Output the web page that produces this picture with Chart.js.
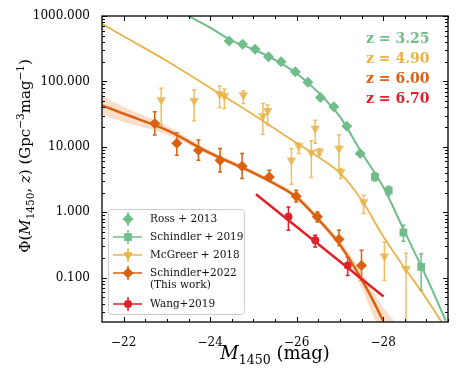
<!DOCTYPE html>
<html><head><meta charset="utf-8">
<script src="https://cdn.jsdelivr.net/npm/chart.js@4"></script>
<style>html,body{margin:0;padding:0;background:#fff}#wrap{width:460px;height:373px}</style>
</head><body><div id="wrap"><canvas id="c" width="460" height="373"></canvas></div>
<script>
// ---- data ----
const rossM   = [-24.44,-24.75,-25.04,-25.35,-25.64,-25.97,-26.26,-26.55,-26.86,-27.16,-27.47];
const rossPhi = [416,370,310,239,200,141,97,57,41,20.7,7.9];

const s19M   = [-27.81,-28.13,-28.47,-28.88];
const s19Phi = [3.47,2.15,0.489,0.146];
const s19Lo  = [3.0,1.8,0.36,0.064];
const s19Hi  = [4.0,2.5,0.63,0.233];

const mcgM   = [-22.87,-23.63,-24.22,-24.33,-24.77,-25.22,-25.33,-25.88,-26.05,-26.34,-26.43,-26.53,-26.98,-27.02,-27.55,-28.03,-28.53];
const mcgPhi = [51.9,50.8,64,60,62,29.5,35.5,6.26,10.3,8.2,19.1,8.4,9.45,4.14,1.44,0.212,0.137];
const mcgLo  = [21.5,25,40,38.7,46,15.6,21.5,2.68,7.9,3.4,11.3,7.5,4.4,3.28,0.955,0.091,0.005];
const mcgHi  = [78.4,73.8,85,76.5,72,46,43.5,9.45,11.3,12.4,25.6,9.45,15.1,4.66,1.82,0.351,0.236];

const s22M   = [-22.72,-23.23,-23.73,-24.23,-24.74,-25.37,-25.99,-26.48,-26.98,-27.5];
const s22Phi = [22.8,11.3,8.9,6.26,5.06,3.47,1.76,0.85,0.386,0.154];
const s22Lo  = [15.1,7.46,6.26,4.14,3.28,3.09,1.44,0.71,0.31,0.091];
const s22Hi  = [34.3,16.4,12.7,9.45,7.9,4.4,2.17,1.01,0.53,0.262];

const wangM   = [-25.81,-26.43,-27.18];
const wangPhi = [0.85,0.373,0.154];
const wangLo  = [0.53,0.294,0.108];
const wangHi  = [1.2,0.445,0.207];

const fit325M   = [-23.5,-24.0,-24.5,-25.0,-25.5,-26.0,-26.5,-27.0,-27.5,-28.0,-28.5,-29.0,-29.45];
const fit325Phi = [1000,665,420,310,213,132,68,29,8.2,2.45,0.5,0.102,0.022];

const fit490M   = [-21.5,-22.0,-23.0,-24.0,-25.0,-26.0,-26.5,-27.0,-27.5,-28.0,-28.5,-29.0,-29.35];
const fit490Phi = [760,490,205,80,31,11.4,7.0,4.0,1.55,0.43,0.14,0.048,0.021];

const fit600M   = [-21.5,-22.0,-23.0,-24.0,-25.0,-25.5,-26.0,-26.5,-27.0,-27.5,-27.75,-28.0];
const fit600Phi = [43,32,18,8.0,4.0,2.7,1.7,0.78,0.32,0.095,0.047,0.022];

const band600M  = [-21.5,-22.0,-23.0,-24.0,-25.0,-26.0,-26.5,-27.0,-27.5,-28.0,-28.3];
const band600Hi = [60,41,21,8.8,4.4,1.85,0.88,0.37,0.125,0.035,0.02];
const band600Lo = [31,24,15.5,7.3,3.7,1.55,0.70,0.28,0.07,0.011,0.004];

const fit670M   = [-25.06,-28.01];
const fit670Phi = [1.89,0.0517];

const xTicks = [-22,-24,-26,-28];
const yTicks = [0.1,1,10,100,1000];
const zLabels = ['z = 3.25','z = 4.90','z = 6.00','z = 6.70'];
const legendLabels = ['Ross + 2013','Schindler + 2019','McGreer + 2018','Schindler+2022\n(This work)','Wang+2019'];

// ---- styling ----
const GREEN='#70bd8a', YELLOW='#e8b449', ORANGE='#d9610f', RED='#e0212b';
const SERIF='"DejaVu Serif", serif';

function xy(M,P){return M.map((m,i)=>({x:m,y:P[i]}));}
function pts(M,P,Lo,Hi){return M.map((m,i)=>({x:m,y:P[i],lo:Lo?Lo[i]:null,hi:Hi?Hi[i]:null}));}

const datasets = [
  {type:'scatter',label:'wang',data:pts(wangM,wangPhi,wangLo,wangHi),pointStyle:'circle',pointRadius:4,backgroundColor:RED,borderColor:RED,borderWidth:0,errColor:RED,order:0},
  {type:'scatter',label:'s22',data:pts(s22M,s22Phi,s22Lo,s22Hi),pointStyle:'rectRot',pointRadius:5.5,backgroundColor:ORANGE,borderColor:ORANGE,borderWidth:0,errColor:ORANGE,order:1},
  {type:'scatter',label:'mcg',data:pts(mcgM,mcgPhi,mcgLo,mcgHi),pointStyle:'triangle',rotation:180,pointRadius:5.5,backgroundColor:'rgba(232,180,73,0.85)',borderColor:YELLOW,borderWidth:0,errColor:'rgba(232,180,73,0.85)',order:2},
  {type:'scatter',label:'s19',data:pts(s19M,s19Phi,s19Lo,s19Hi),pointStyle:'rect',pointRadius:5.5,backgroundColor:GREEN,borderColor:GREEN,borderWidth:0,errColor:GREEN,order:3},
  {type:'scatter',label:'ross',data:pts(rossM,rossPhi,null,null),pointStyle:'rectRot',pointRadius:5.5,backgroundColor:GREEN,borderColor:GREEN,borderWidth:0,order:4},
  {type:'line',label:'fit670',data:xy(fit670M,fit670Phi),borderColor:RED,borderWidth:2.5,pointRadius:0,fill:false,order:5},
  {type:'line',label:'fit600',data:xy(fit600M,fit600Phi),borderColor:ORANGE,borderWidth:2.5,pointRadius:0,fill:false,cubicInterpolationMode:'monotone',order:6},
  {type:'line',label:'fit490',data:xy(fit490M,fit490Phi),borderColor:YELLOW,borderWidth:1.8,pointRadius:0,fill:false,cubicInterpolationMode:'monotone',order:7},
  {type:'line',label:'fit325',data:xy(fit325M,fit325Phi),borderColor:GREEN,borderWidth:2,pointRadius:0,fill:false,cubicInterpolationMode:'monotone',order:8},
  {type:'line',label:'bandHi',data:xy(band600M,band600Hi),borderColor:'rgba(0,0,0,0)',borderWidth:0,pointRadius:0,fill:'+1',backgroundColor:'rgba(240,160,110,0.35)',cubicInterpolationMode:'monotone',order:9},
  {type:'line',label:'bandLo',data:xy(band600M,band600Lo),borderColor:'rgba(0,0,0,0)',borderWidth:0,pointRadius:0,fill:false,cubicInterpolationMode:'monotone',order:10}
];

const errorBars = {
  id:'errorBars',
  beforeDatasetsDraw(chart){
    const ctx=chart.ctx, y=chart.scales.y, a=chart.chartArea;
    ctx.save();
    ctx.beginPath();ctx.rect(a.left,a.top,a.right-a.left,a.bottom-a.top);ctx.clip();
    chart.data.datasets.forEach((ds,di)=>{
      if(!ds.errColor) return;
      const meta=chart.getDatasetMeta(di);
      ctx.strokeStyle=ds.errColor; ctx.lineWidth=1.5;
      ds.data.forEach((d,i)=>{
        if(d.lo==null) return;
        const px=meta.data[i].x, y1=y.getPixelForValue(d.lo), y2=y.getPixelForValue(d.hi);
        ctx.beginPath();
        ctx.moveTo(px,y1);ctx.lineTo(px,y2);
        ctx.moveTo(px-2,y1);ctx.lineTo(px+2,y1);
        ctx.moveTo(px-2,y2);ctx.lineTo(px+2,y2);
        ctx.stroke();
      });
    });
    ctx.restore();
  }
};

function marker(ctx,style,x,y,r,color){
  ctx.fillStyle=color;ctx.beginPath();
  if(style==='rectRot'){ctx.moveTo(x,y-r);ctx.lineTo(x+r,y);ctx.lineTo(x,y+r);ctx.lineTo(x-r,y);ctx.closePath();}
  else if(style==='rect'){const s=r*Math.SQRT1_2;ctx.rect(x-s,y-s,2*s,2*s);}
  else if(style==='triDown'){const h=r*0.5,w=r*0.866;ctx.moveTo(x-w,y-h);ctx.lineTo(x+w,y-h);ctx.lineTo(x,y+r);ctx.closePath();}
  else {ctx.arc(x,y,r,0,Math.PI*2);}
  ctx.fill();
}

function richWidth(ctx,parts,size){
  let w=0;
  parts.forEach(p=>{const s=(p.sub||p.sup)?size*0.7:size;ctx.font=(p.it?'italic ':'')+s+'px '+SERIF;w+=ctx.measureText(p.t).width;});
  return w;
}
function drawRich(ctx,parts,x,y,size){
  const w=richWidth(ctx,parts,size);let cx=x-w/2;
  parts.forEach(p=>{const s=(p.sub||p.sup)?size*0.7:size;ctx.font=(p.it?'italic ':'')+s+'px '+SERIF;
    const dy=p.sub?size*0.25:(p.sup?-size*0.38:0);ctx.fillText(p.t,cx,y+dy);cx+=ctx.measureText(p.t).width;});
}

const decor = {
  id:'decor',
  afterDraw(chart){
    const ctx=chart.ctx,a=chart.chartArea,xs=chart.scales.x,ys=chart.scales.y;
    ctx.save();
    // box
    ctx.strokeStyle='#000';ctx.lineWidth=1.3;
    ctx.strokeRect(a.left,a.top,a.right-a.left,a.bottom-a.top);
    ctx.lineWidth=1;
    // x ticks
    for(let v=-22;v>=-29.5;v-=0.5){
      const px=Math.round(xs.getPixelForValue(v))+0.5;
      const major=xTicks.includes(v);const L=major?5:3;
      ctx.beginPath();ctx.moveTo(px,a.bottom);ctx.lineTo(px,a.bottom-L);ctx.moveTo(px,a.top);ctx.lineTo(px,a.top+L);ctx.stroke();
    }
    // y ticks
    for(let e=-2;e<=3;e++){
      for(let m=1;m<=9;m++){
        const v=m*Math.pow(10,e);
        if(v<ys.min||v>ys.max*1.0001) continue;
        const py=Math.round(ys.getPixelForValue(v))+0.5;
        const L=m===1?5:3;
        ctx.beginPath();ctx.moveTo(a.left,py);ctx.lineTo(a.left+L,py);ctx.moveTo(a.right,py);ctx.lineTo(a.right-L,py);ctx.stroke();
      }
    }
    // z labels
    ctx.font='bold 14px '+SERIF;ctx.textBaseline='middle';ctx.textAlign='left';
    const zc=[GREEN,YELLOW,ORANGE,RED],zy=[39,59,79,99];
    zLabels.forEach((t,i)=>{ctx.fillStyle=zc[i];ctx.fillText(t,366,zy[i]);});
    // legend
    ctx.fillStyle='rgba(255,255,255,0.85)';ctx.strokeStyle='#cccccc';ctx.lineWidth=1;
    ctx.beginPath();ctx.roundRect(108.5,209.5,136,105,3);ctx.fill();ctx.stroke();
    const ent=[
      {c:GREEN,s:'rectRot',r:5.5,line:false,y:219},
      {c:GREEN,s:'rect',r:5.5,line:true,y:237},
      {c:YELLOW,s:'triDown',r:5.5,line:true,y:255},
      {c:ORANGE,s:'rectRot',r:5.5,line:true,y:273},
      {c:RED,s:'circle',r:4,line:true,y:304}
    ];
    ent.forEach((e,i)=>{
      ctx.strokeStyle=e.c;ctx.lineWidth=1.5;
      if(e.line){ctx.beginPath();ctx.moveTo(113,e.y);ctx.lineTo(142,e.y);ctx.stroke();}
      ctx.beginPath();ctx.moveTo(128,e.y-7);ctx.lineTo(128,e.y+7);ctx.stroke();
      marker(ctx,e.s,128,e.y,e.r,e.c);
      ctx.fillStyle='#111';ctx.font='10.5px '+SERIF;ctx.textBaseline='middle';
      const lines=legendLabels[i].split('\n');
      lines.forEach((t,k)=>ctx.fillText(t,150,e.y+k*12));
    });
    // axis titles
    ctx.fillStyle='#000';ctx.textBaseline='alphabetic';ctx.textAlign='left';
    drawRich(ctx,[{t:'M',it:true},{t:'1450',sub:true},{t:' (mag)'}],275,359,18);
    ctx.save();ctx.translate(30,156);ctx.rotate(-Math.PI/2);
    drawRich(ctx,[{t:'Φ('},{t:'M',it:true},{t:'1450',sub:true},{t:', '},{t:'z',it:true},{t:') (Gpc'},{t:'−3',sup:true},{t:'mag'},{t:'−1',sup:true},{t:')'}],0,0,15);
    ctx.restore();
    ctx.restore();
  }
};

new Chart(document.getElementById('c'),{
  data:{datasets},
  options:{
    responsive:false,animation:false,
    layout:{padding:{top:16,right:12,left:0,bottom:0}},
    plugins:{legend:{display:false},tooltip:{enabled:false}},
    scales:{
      x:{type:'linear',reverse:true,min:-29.5,max:-21.5,
        grid:{display:false},border:{display:false},
        afterBuildTicks:s=>{s.ticks=xTicks.map(v=>({value:v}));},
        afterFit:s=>{s.height=51;},
        ticks:{padding:6,color:'#000',font:{family:'DejaVu Serif',size:12},maxRotation:0,callback:v=>'\u2212'+Math.abs(v)}},
      y:{type:'logarithmic',min:0.021,max:1000,
        grid:{display:false},border:{display:false},
        afterBuildTicks:s=>{s.ticks=yTicks.map(v=>({value:v}));},
        afterFit:s=>{s.width=102;},
        ticks:{padding:4,color:'#000',font:{family:'DejaVu Serif',size:12},callback:v=>Number(v).toFixed(3)}}
    }
  },
  plugins:[errorBars,decor]
});
</script></body></html>
